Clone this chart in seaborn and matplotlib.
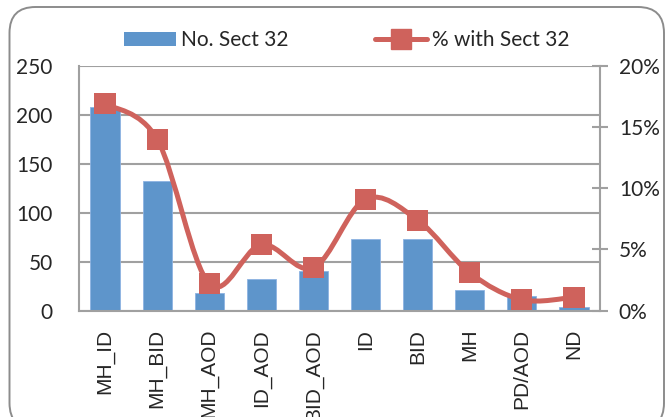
import numpy as np
import pandas as pd
import matplotlib
matplotlib.use("Agg")
import matplotlib.pyplot as plt
import seaborn as sns
from matplotlib.path import Path
from matplotlib.patches import PathPatch, Patch, FancyBboxPatch
from matplotlib.lines import Line2D
from matplotlib.ticker import PercentFormatter

# ---- data ----
categories = ["MH_ID", "MH_BID", "MH_AOD", "ID_AOD", "BID_AOD", "ID", "BID", "MH", "PD/AOD", "ND"]
counts = [208, 132, 18, 32, 41, 73, 73, 21, 15, 4]
pct_with = [16.9, 14.0, 2.2, 5.4, 3.5, 9.1, 7.4, 3.1, 0.9, 1.1]
count_ticks = [0, 50, 100, 150, 200, 250]
pct_ticks = [0, 5, 10, 15, 20]
bar_label = "No. Sect 32"
line_label = "% with Sect 32"

BLUE = "#5E95CB"
RED = "#CF625C"
GREY = "#A0A0A0"

sns.set_style("white")
plt.rcParams["font.family"] = ["Lato", "DejaVu Sans"]

fig = plt.figure(figsize=(6.67, 4.17), dpi=100)
ax = fig.add_axes([0.1184, 0.2549, 0.7812, 0.8424 - 0.2549])

df = pd.DataFrame({"cat": categories, "n": counts, "pct": pct_with})
sns.barplot(data=df, x="cat", y="n", ax=ax, color=BLUE, saturation=1,
            width=0.56, edgecolor="#8DB3E2", linewidth=0.6, zorder=2)

ax.set_ylim(count_ticks[0], count_ticks[-1])
ax.set_xlim(-0.5, len(categories) - 0.5)
ax.set_yticks(count_ticks)
ax.yaxis.grid(True, color=GREY, linewidth=1.5)
ax.xaxis.grid(False)
ax.set_axisbelow(True)
ax.set_xlabel("")
ax.set_ylabel("")
for s in ["top", "right"]:
    ax.spines[s].set_visible(False)
for s in ["left", "bottom"]:
    ax.spines[s].set_color(GREY)
    ax.spines[s].set_linewidth(1.5)
ax.tick_params(axis="y", length=0, pad=19, labelsize=15)
ax.tick_params(axis="x", length=0, pad=13)
ax.set_xticks(range(len(categories)))
ax.set_xticklabels(categories, rotation=90, fontsize=15, family=["Liberation Sans", "DejaVu Sans"])

# ---- secondary axis with smoothed line ----
ax2 = ax.twinx()
ax2.set_ylim(pct_ticks[0], pct_ticks[-1])
ax2.set_yticks(pct_ticks)
ax2.yaxis.set_major_formatter(PercentFormatter(xmax=100, decimals=0))
ax2.grid(False)
for s in ["top", "left", "bottom"]:
    ax2.spines[s].set_visible(False)
ax2.spines["right"].set_color(GREY)
ax2.spines["right"].set_linewidth(1.5)
ax2.tick_params(axis="y", direction="inout", length=11, width=1.5, color=GREY,
                pad=8, labelsize=15)

pos = np.arange(len(categories), dtype=float)
yv = np.asarray(pct_with, dtype=float)
pts = np.column_stack([pos, yv])
verts = [tuple(pts[0])]
codes = [Path.MOVETO]
n = len(pts)
for i in range(n - 1):
    p0 = pts[max(i - 1, 0)]
    p1 = pts[i]
    p2 = pts[i + 1]
    p3 = pts[min(i + 2, n - 1)]
    c1 = p1 + (p2 - p0) / 6.0
    c2 = p2 - (p3 - p1) / 6.0
    verts += [tuple(c1), tuple(c2), tuple(p2)]
    codes += [Path.CURVE4, Path.CURVE4, Path.CURVE4]
ax2.add_patch(PathPatch(Path(verts, codes), facecolor="none", edgecolor=RED,
                        linewidth=3.6, capstyle="round", joinstyle="round", zorder=3))
sns.scatterplot(x=pos, y=yv, ax=ax2, marker="s", s=230, color=RED,
                edgecolor="none", linewidth=0, zorder=4, legend=False)
ax2.set_xlim(-0.5, len(categories) - 0.5)
ax2.set_ylabel("")

# ---- legend ----
handles = [Patch(facecolor=BLUE, edgecolor="none"),
           Line2D([0], [0], color=RED, linewidth=3.6, marker="s", markersize=15)]
fig.legend(handles, [bar_label, line_label], loc="center", ncol=2,
           bbox_to_anchor=(0.5197, 0.904), frameon=False, fontsize=15,
           handlelength=2.5, handleheight=0.65, handletextpad=0.25,
           columnspacing=4.15)

# ---- rounded chart border ----
border = FancyBboxPatch((9.5, -12), 654.5, 422, boxstyle="round,pad=0,rounding_size=26",
                        transform=None, facecolor="none", edgecolor="#8C8C8C",
                        linewidth=1.4, zorder=10)
fig.patches.append(border)

fig.savefig("out.png", dpi=100)
